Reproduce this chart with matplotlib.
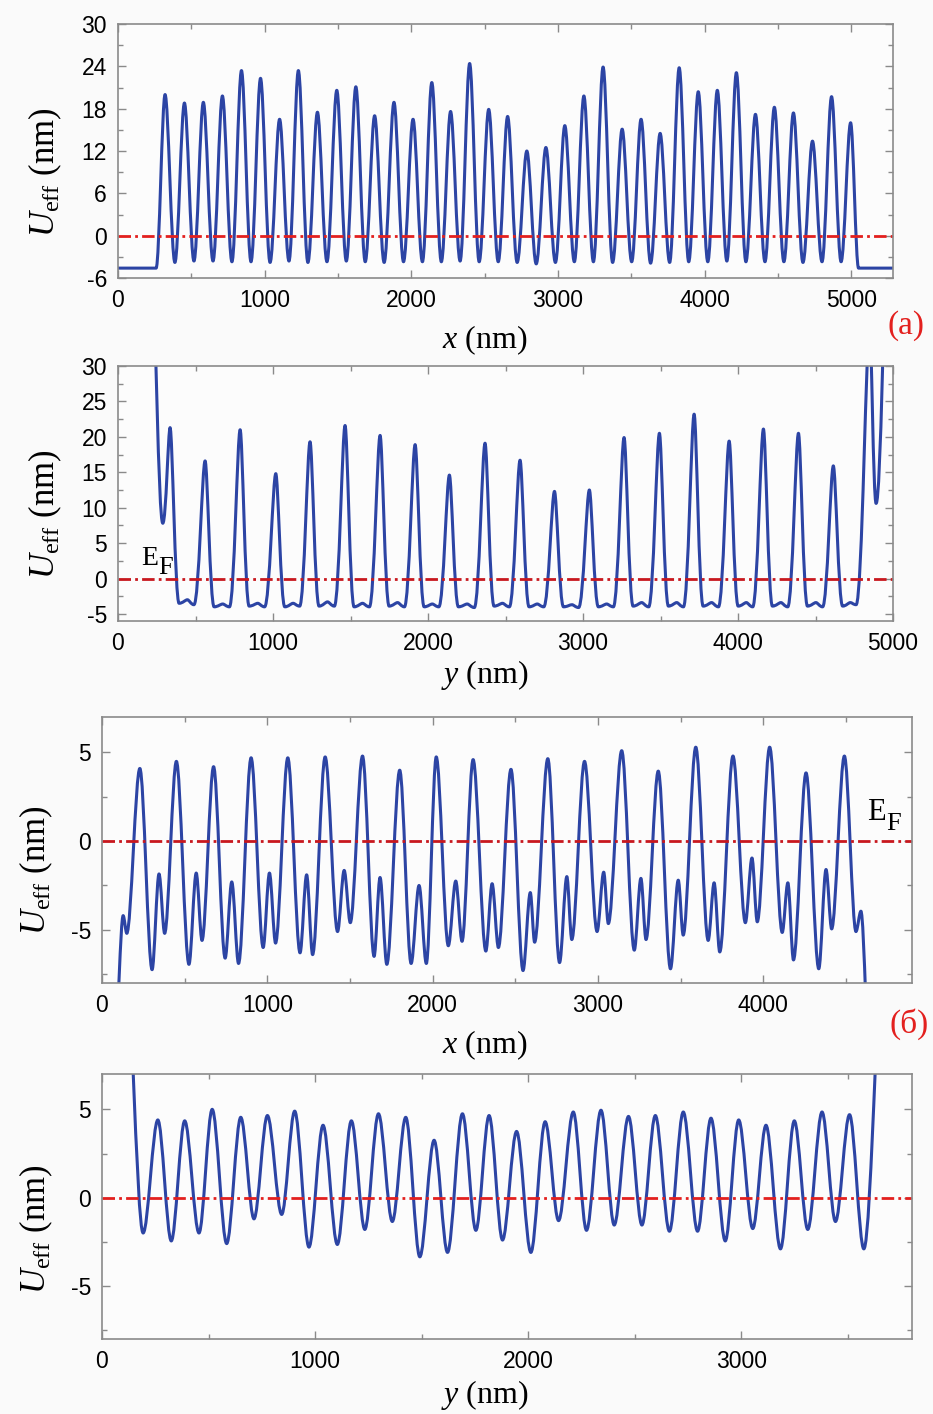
import numpy as np
import matplotlib
matplotlib.use('Agg')
import matplotlib.pyplot as plt
from matplotlib.path import Path
from matplotlib.patches import PathPatch
from matplotlib.ticker import MultipleLocator

# extrema of U_eff: alternating maxima / minima (nm)
# (a) top: U_eff(x)
ua_x = [0, 260, 321, 388, 453, 518, 582, 648, 712, 777, 842, 907, 972, 1037, 1102, 1166,
        1230, 1295, 1360, 1425, 1492, 1557, 1622, 1686, 1750, 1815, 1882, 1947, 2012, 2076,
        2140, 2205, 2268, 2333, 2398, 2463, 2528, 2593, 2657, 2722, 2788, 2852, 2918, 2983,
        3047, 3112, 3177, 3242, 3308, 3373, 3438, 3503, 3567, 3632, 3697, 3762, 3827, 3892,
        3957, 4022, 4087, 4152, 4217, 4282, 4347, 4412, 4476, 4541, 4606, 4671, 4736, 4801,
        4866, 4931, 4996, 5050, 5285]
ua_y = [-4.6, -4.6, 20.0, -3.8, 18.8, -3.6, 18.9, -3.6, 19.8, -3.7, 23.4, -3.7, 22.3, -3.8,
        16.5, -3.6, 23.4, -3.8, 17.5, -3.7, 20.6, -3.6, 21.1, -3.7, 17.0, -3.8, 18.9, -3.7,
        16.5, -3.7, 21.7, -3.7, 17.6, -3.6, 24.4, -3.7, 17.9, -3.7, 16.9, -3.8, 12.0, -4.0,
        12.5, -3.8, 15.6, -3.7, 19.8, -3.7, 23.9, -3.8, 15.1, -3.7, 16.5, -3.9, 14.5, -3.8,
        23.8, -3.7, 20.4, -3.7, 20.6, -3.6, 23.1, -3.7, 17.2, -3.7, 18.2, -3.7, 17.4, -3.8,
        13.4, -3.7, 19.7, -3.7, 16.0, -4.6, -4.6]

# (a) bottom: U_eff(y)
ub_x = [225, 289, 336, 394, 448, 490, 562, 620, 676, 719, 788, 846, 902, 946, 1018, 1076,
        1130, 1172, 1239, 1297, 1352, 1396, 1465, 1523, 1578, 1622, 1691, 1749, 1804, 1848,
        1917, 1975, 2028, 2070, 2138, 2196, 2253, 2299, 2368, 2426, 2481, 2525, 2594, 2652,
        2705, 2747, 2816, 2874, 2929, 2972, 3041, 3099, 3153, 3196, 3265, 3323, 3379, 3424,
        3493, 3551, 3605, 3648, 3717, 3775, 3830, 3874, 3943, 4001, 4054, 4095, 4164, 4222,
        4277, 4321, 4390, 4448, 4503, 4546, 4615, 4675, 4725, 4762, 4850, 4891, 4960]
ub_y = [40, 7.8, 21.3, -3.5, -3.0, -3.7, 16.6, -4.0, -3.6, -4.0, 21.0, -3.9, -3.5, -4.0,
        14.8, -4.0, -3.5, -3.9, 19.3, -3.9, -3.3, -3.9, 21.6, -4.0, -3.5, -4.0, 20.2, -3.9,
        -3.4, -4.0, 18.9, -4.0, -3.6, -4.0, 14.6, -4.0, -3.6, -4.1, 19.1, -3.9, -3.5, -4.0,
        16.7, -4.0, -3.6, -4.0, 12.3, -4.0, -3.7, -4.1, 12.5, -4.0, -3.6, -4.0, 19.9, -3.9,
        -3.4, -4.0, 20.5, -3.9, -3.4, -4.0, 23.2, -3.9, -3.4, -4.0, 19.4, -3.9, -3.4, -4.0,
        21.1, -3.9, -3.4, -4.0, 20.5, -3.9, -3.4, -4.0, 15.9, -3.9, -3.4, -3.7, 36, 10.6, 45]

# (б) top: U_eff(x)
uc_x = [80, 128, 150, 229, 303, 345, 379, 450, 526, 570, 605, 675, 745, 785, 826, 902, 975,
        1013, 1050, 1124, 1198, 1238, 1274, 1350, 1425, 1465, 1502, 1576, 1646, 1682, 1723,
        1801, 1870, 1918, 1962, 2022, 2095, 2140, 2178, 2245, 2322, 2360, 2398, 2474, 2547,
        2591, 2617, 2697, 2768, 2812, 2842, 2919, 2995, 3035, 3063, 3144, 3220, 3260, 3291,
        3365, 3439, 3486, 3516, 3592, 3667, 3703, 3737, 3817, 3892, 3932, 3964, 4039, 4115,
        4149, 4183, 4259, 4336, 4380, 4414, 4491, 4561, 4591, 4650]
uc_y = [-11, -4.2, -5.2, 4.1, -7.25, -1.85, -5.2, 4.5, -6.95, -1.8, -5.6, 4.2, -6.6, -2.3,
        -6.9, 4.7, -6.0, -1.8, -5.75, 4.7, -6.3, -1.9, -6.4, 4.75, -5.1, -1.65, -4.6, 4.8,
        -6.5, -2.05, -6.95, 4.0, -6.9, -2.5, -6.9, 4.75, -5.9, -2.25, -5.65, 4.6, -6.2, -2.4,
        -6.0, 4.05, -7.3, -2.9, -5.7, 4.65, -6.85, -2.0, -5.55, 4.5, -5.1, -1.75, -4.65, 5.1,
        -6.15, -2.1, -5.55, 3.95, -7.2, -2.2, -5.3, 5.3, -5.6, -2.35, -6.25, 4.8, -4.6, -0.95,
        -4.55, 5.3, -5.15, -2.35, -6.7, 3.85, -7.2, -1.6, -4.95, 4.8, -5.1, -3.95, -14]

# (б) bottom: U_eff(y)
ud_x = [100, 193, 262, 325, 388, 455, 517, 585, 651, 713, 776, 843, 904, 971, 1037, 1104,
        1170, 1233, 1297, 1362, 1425, 1491, 1558, 1621, 1691, 1754, 1816, 1879, 1945, 2012,
        2079, 2142, 2211, 2273, 2341, 2403, 2470, 2533, 2596, 2662, 2727, 2794, 2857, 2924,
        2987, 3053, 3115, 3183, 3248, 3311, 3378, 3441, 3507, 3574, 3680]
ud_y = [16, -2.0, 4.4, -2.45, 4.35, -2.0, 5.0, -2.6, 4.55, -1.2, 4.65, -0.95, 4.9, -2.8,
        4.1, -2.65, 4.35, -1.8, 4.75, -1.35, 4.55, -3.35, 3.25, -3.1, 4.75, -1.85, 4.65, -2.4,
        3.75, -3.1, 4.3, -1.3, 4.85, -1.85, 4.95, -1.55, 4.6, -1.55, 4.65, -1.9, 4.85, -1.9,
        4.5, -2.45, 4.4, -1.75, 4.1, -2.9, 4.35, -1.8, 4.85, -1.35, 4.7, -2.9, 17]

plt.rcParams['font.family'] = 'Liberation Sans'
plt.rcParams['mathtext.fontset'] = 'custom'
plt.rcParams['mathtext.rm'] = 'Liberation Serif'
plt.rcParams['mathtext.it'] = 'Liberation Serif:italic'
plt.rcParams['axes.unicode_minus'] = False
plt.rcParams['lines.scale_dashes'] = False

BLUE = '#2c44a4'
W, H = 933, 1414


def smooth_curve(ax, xs, ys, k_hi, k_lo):
    # cubic bezier between neighbouring extrema, flat tangents at each extremum
    verts = [(xs[0], ys[0])]
    codes = [Path.MOVETO]
    for x0, y0, x1, y1 in zip(xs[:-1], ys[:-1], xs[1:], ys[1:]):
        dx = x1 - x0
        k0 = k_hi if y0 > y1 else k_lo
        k1 = k_hi if y1 > y0 else k_lo
        verts += [(x0 + k0 * dx, y0), (x1 - k1 * dx, y1), (x1, y1)]
        codes += [Path.CURVE4] * 3
    patch = PathPatch(Path(verts, codes), fill=False, edgecolor=BLUE, lw=2.2,
                      joinstyle='round', capstyle='round')
    ax.add_patch(patch)


def panel(rect_px, xlim, ylim, xmaj, ymaj, xs, ys, k_hi, k_lo, xlab, xlab_px, ylab_px, red):
    l, t, r, b = rect_px
    ax = fig.add_axes([l / W, 1 - b / H, (r - l) / W, (b - t) / H])
    ax.set_facecolor('#fcfcfc')
    smooth_curve(ax, xs, ys, k_hi, k_lo)
    ax.axhline(0, color=red, lw=2.0, dashes=(9, 3, 2, 3))
    ax.set_xlim(*xlim)
    ax.set_ylim(*ylim)
    ax.xaxis.set_major_locator(MultipleLocator(xmaj))
    ax.xaxis.set_minor_locator(MultipleLocator(xmaj / 2))
    ax.yaxis.set_major_locator(MultipleLocator(ymaj))
    ax.yaxis.set_minor_locator(MultipleLocator(ymaj / 2))
    ax.tick_params(which='both', direction='in', top=True, right=True, color='#8a8a8a',
                   labelsize=16.5, pad=8)
    ax.tick_params(which='major', length=6, width=1.0)
    ax.tick_params(which='minor', length=3.5, width=1.0)
    for s in ax.spines.values():
        s.set_color('#8a8a8a')
        s.set_linewidth(1.2)
    ax.set_xlabel(xlab, fontsize=23, family='Liberation Serif', va='center')
    ax.xaxis.set_label_coords((xlab_px[0] - l) / (r - l), (b - xlab_px[1]) / (b - t))
    ax.set_ylabel(r'$U_{\mathrm{eff}}$ (nm)', fontsize=25, family='Liberation Serif',
                  va='center')
    ax.yaxis.set_label_coords((ylab_px[0] - l) / (r - l), (b - ylab_px[1]) / (b - t))
    return ax


fig = plt.figure(figsize=(W / 100, H / 100), dpi=100, facecolor='#fafafa')

panel((118, 24, 893, 278), (0, 5285), (-6, 30), 1000, 6, ua_x, ua_y, 0.33, 0.36,
      r'$x$ (nm)', (485, 340), (45, 172), '#e3201e')
panel((118, 366, 893, 621), (0, 5000), (-6, 30), 1000, 5, ub_x, ub_y, 0.26, 0.45,
      r'$y$ (nm)', (485, 675), (45, 514), '#c8181e')
panel((102, 717, 912, 983), (0, 4900), (-8, 7), 1000, 5, uc_x, uc_y, 1 / 3, 1 / 3,
      r'$x$ (nm)', (485, 1045), (36, 870), '#c8181e')
panel((102, 1074, 912, 1339), (0, 3800), (-8, 7), 1000, 5, ud_x, ud_y, 1 / 3, 1 / 3,
      r'$y$ (nm)', (485, 1395), (36, 1229), '#e3201e')

serif = 'Liberation Serif'
fig.text(141 / W, 1 - 565 / H, 'E', fontsize=20, family=serif, va='baseline')
fig.text(158 / W, 1 - 574 / H, 'F', fontsize=19, family=serif, va='baseline')
fig.text(867 / W, 1 - 820 / H, 'E', fontsize=22, family=serif, va='baseline')
fig.text(886 / W, 1 - 830 / H, 'F', fontsize=19, family=serif, va='baseline')
fig.text(906 / W, 1 - 326 / H, '(a)', fontsize=24, family=serif, color='#e3201e',
         ha='center', va='center')
fig.text(909 / W, 1 - 1024 / H, '(б)', fontsize=24, family=serif, color='#e3201e',
         ha='center', va='center')

fig.savefig('out.png', dpi=100, facecolor=fig.get_facecolor())
